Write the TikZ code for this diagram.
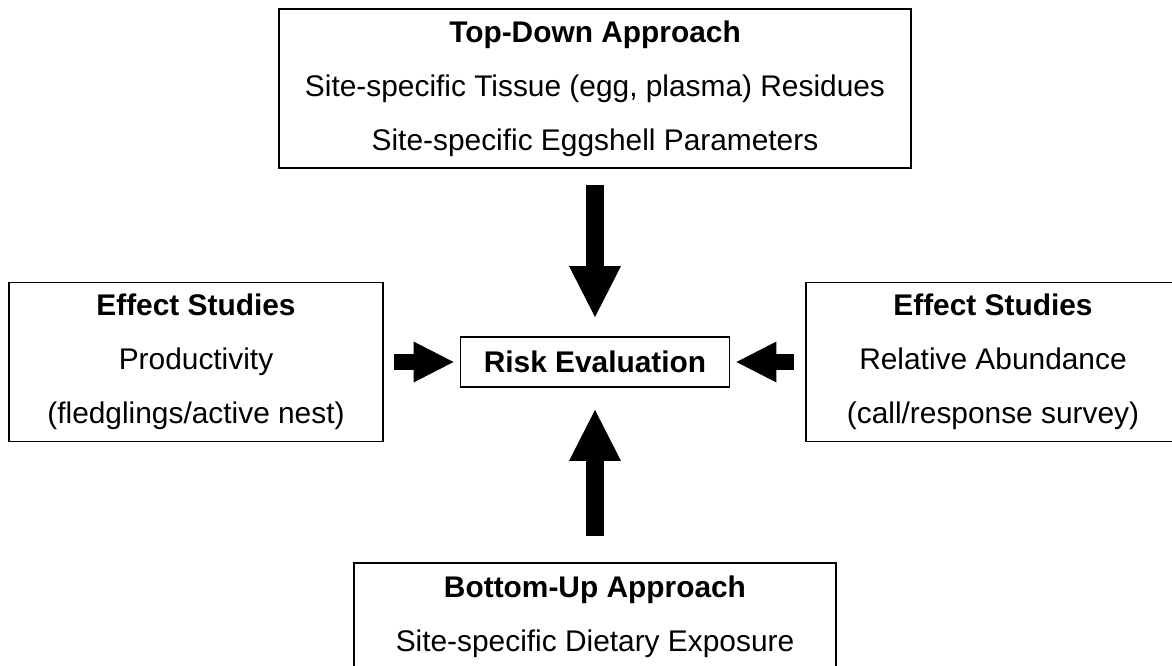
\documentclass[tikz,border=0pt]{standalone}
\usepackage{fontspec}
\setmainfont{Liberation Sans}
\usetikzlibrary{arrows.meta}
\begin{document}
\begin{tikzpicture}[
  font=\fontsize{17}{30.7}\selectfont,
  box/.style={draw, line width=1.1pt, align=center, inner sep=0pt},
  fatv/.style={line width=0.35cm, -{Triangle[width=1.04cm, length=1.02cm, line width=0pt]}},
  fath/.style={line width=0.32cm, -{Triangle[width=0.82cm, length=0.8cm, line width=0pt]}}]
\useasboundingbox (0, 0) rectangle (23.44, 13.3);
\clip (0, 0) rectangle (23.44, 13.3);
\path (11.9, 11.53) node[box, minimum width=12.64cm, minimum height=3.18cm] (topdown) {\textbf{Top-Down Approach}\\Site-specific Tissue (egg, plasma) Residues\\Site-specific Eggshell Parameters};
\path (3.92, 6.06) node[box, minimum width=7.48cm, minimum height=3.18cm] (effleft) {\textbf{Effect Studies}\\Productivity\\(fledglings/active nest)};
\path (19.86, 6.06) node[box, minimum width=7.48cm, minimum height=3.18cm] (effright) {\textbf{Effect Studies}\\Relative Abundance\\(call/response survey)};
\path (11.9, 6.06) node[box, minimum width=5.38cm, minimum height=1cm] (risk) {\textbf{Risk Evaluation}};
\path (11.9, 0.97) node[box, minimum width=9.64cm, minimum height=2.14cm] (bottomup) {\textbf{Bottom-Up Approach}\\Site-specific Dietary Exposure};
\draw[fatv, shorten <=0.32cm, shorten >=0.38cm] (topdown) -- (risk);
\draw[fatv, shorten <=0.52cm, shorten >=0.44cm] (bottomup) -- (risk);
\draw[fath, shorten <=0.2cm, shorten >=0.12cm] (effleft) -- (risk);
\draw[fath, shorten <=0.22cm, shorten >=0.12cm] (effright) -- (risk);
\end{tikzpicture}
\end{document}
